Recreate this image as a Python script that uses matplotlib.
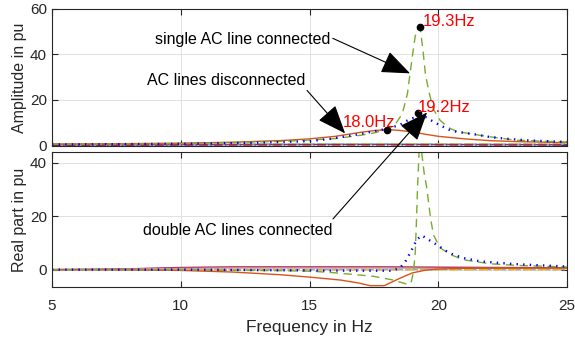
import matplotlib
matplotlib.use("Agg")
import matplotlib.pyplot as plt
from matplotlib.patches import ConnectionPatch
import numpy as np

plt.rcParams['font.family'] = ['Liberation Sans', 'DejaVu Sans']

# ---- amplitude (top panel) ----
f_dis_amp = [5, 8, 10, 12, 14, 15, 16, 17, 17.5, 18, 18.5, 19, 19.5, 20, 21, 22, 23, 25]
amp_dis = [0.6, 0.8, 1.0, 1.4, 2.2, 2.9, 4.0, 5.8, 6.5, 7.0, 6.6, 5.9, 4.9, 4.0, 2.9, 2.1, 1.7, 1.2]

f_single_amp = [5, 10, 14, 16, 17, 17.5, 18, 18.3, 18.6, 18.8, 18.9, 19.0, 19.1, 19.2, 19.25,
                19.3, 19.4, 19.5, 19.65, 19.8, 20.07, 20.4, 20.7, 21.3, 22, 23, 25]
amp_single = [0.5, 0.8, 1.8, 3.0, 4.5, 5.5, 7.0, 8.8, 14, 22.8, 31.7, 40, 48, 51.5, 52,
              51, 42, 31, 22.8, 16, 11, 7.8, 6.2, 5.0, 3.8, 2.3, 1.5]

f_double_amp = [5, 10, 13, 15, 15.8, 17, 18, 18.5, 18.8, 19.0, 19.3, 19.5, 19.8, 20.07,
                20.4, 20.7, 21.35, 22, 22.66, 23.5, 25]
amp_double = [0.4, 0.7, 1.2, 1.9, 2.9, 5.1, 7.3, 9.0, 11.0, 12.0, 12.6, 12.5, 10.5, 8.8,
              7.0, 6.0, 5.0, 3.7, 2.9, 2.2, 1.5]

# ---- real part (bottom panel) ----
f_dis_re = [5, 8, 10, 12, 13.85, 15, 16.2, 16.9, 17.35, 17.9, 18.4, 18.7, 19.0, 19.5, 20, 21, 25]
re_dis = [0, -0.1, -0.3, -0.9, -1.9, -2.8, -3.9, -5.0, -6.0, -6.0, -3.7, -2.4, -1.2, -0.2, 0.2, 0.5, 0.6]

f_single_re = [5, 10, 14, 15.1, 16, 17.48, 18.2, 18.84, 18.95, 19.03, 19.1, 19.14, 19.19, 19.25,
               19.3, 19.35, 19.45, 19.55, 19.7, 19.81, 20.07, 20.5, 20.97, 22, 23, 25]
re_single = [0, -0.1, -0.4, -0.6, -1.2, -2.5, -3.8, -5.6, -4.5, -1.0, 6, 15.6, 30.5, 44,
             48, 44, 36, 30.5, 19, 13, 8.1, 5.5, 3.7, 2.2, 1.6, 1.0]

f_double_re = [5, 10, 15, 17, 18.2, 18.51, 18.75, 18.97, 19.16, 19.36, 19.6, 19.94, 20.3,
               20.58, 21.0, 21.62, 22.91, 24.86, 25]
re_double = [0, 0, -0.3, -0.4, -0.4, 0.6, 3.5, 7.5, 11.2, 12.8, 11.3, 9.3, 7.0, 5.6, 4.3,
             3.1, 2.1, 1.2, 1.2]

# ---- other cases, staying near zero ----
f_base = [5, 8, 10, 12, 15, 18, 20, 22, 25]
amp_base1 = [0.3, 0.3, 0.35, 0.4, 0.45, 0.5, 0.45, 0.4, 0.35]
amp_base2 = [0.6, 0.6, 0.65, 0.7, 0.75, 0.8, 0.75, 0.7, 0.65]
amp_base3 = [0.45, 0.45, 0.5, 0.55, 0.6, 0.6, 0.55, 0.5, 0.5]
amp_base4 = [0.15, 0.15, 0.2, 0.2, 0.25, 0.25, 0.25, 0.2, 0.2]
re_base1 = [0, 0.3, 0.8, 1.0, 1.0, 1.0, 0.9, 0.8, 0.7]
re_base2 = [0, 0.2, 0.5, 0.6, 0.6, 0.6, 0.5, 0.5, 0.4]
re_base3 = [0, 0, 0, 0.05, 0.05, 0.05, 0.05, 0, 0]
re_base4 = [0, 0, -0.05, -0.05, -0.1, -0.1, -0.05, 0, 0]

# marked resonance points
mark_f = [18.0, 19.3, 19.2]
mark_amp = [6.6, 52.0, 14.1]
mark_txt = ['18.0Hz', '19.3Hz', '19.2Hz']

c_blue = '#0072BD'
c_orange = '#D95319'
c_yellow = '#EDB120'
c_purple = '#7E2F8E'
c_green = '#77AC30'
c_cyan = '#4DBEEE'
c_red = '#A2142F'
txt_col = '#262626'

fig = plt.figure(figsize=(5.75, 3.39), dpi=100)
ax1 = fig.add_axes([0.0904, 0.569, 0.896, 0.4045])
ax2 = fig.add_axes([0.0904, 0.1534, 0.896, 0.398])

# top panel
ax1.plot(f_base, amp_base1, color=c_purple, lw=1.0)
ax1.plot(f_base, amp_base2, color=c_yellow, lw=1.0, ls='-.')
ax1.plot(f_base, amp_base3, color=c_cyan, lw=1.0, ls='--')
ax1.plot(f_base, amp_base4, color=c_red, lw=1.0, ls='-.')
ax1.plot(f_dis_amp, amp_dis, color=c_orange, lw=1.0)
ax1.plot(f_single_amp, amp_single, color=c_green, lw=1.0, ls=(0, (6, 4)))
ax1.plot(f_double_amp, amp_double, color='blue', lw=1.7, ls=(0, (0.6, 2.2)))
ax1.plot(mark_f, mark_amp, 'o', color='black', ms=4.5)

# bottom panel
ax2.plot(f_base, re_base1, color=c_red, lw=1.0)
ax2.plot(f_base, re_base2, color='#D98FB0', lw=1.0)
ax2.plot(f_base, re_base3, color=c_cyan, lw=1.0, ls='--')
ax2.plot(f_base, re_base4, color=c_yellow, lw=1.0, ls='-.')
ax2.plot(f_dis_re, re_dis, color=c_orange, lw=1.0)
ax2.plot(f_single_re, re_single, color=c_green, lw=1.0, ls=(0, (6, 4)))
ax2.plot(f_double_re, re_double, color='blue', lw=1.7, ls=(0, (0.6, 2.2)))

for ax in (ax1, ax2):
    ax.set_xlim(5, 25)
    ax.set_xticks([5, 10, 15, 20, 25])
    ax.grid(True, color='#dcdcdc', lw=0.6)
    ax.set_axisbelow(True)
    ax.tick_params(direction='in', top=True, right=True, length=4, width=0.8,
                   colors=txt_col, labelsize=11)
    for s in ax.spines.values():
        s.set_color(txt_col)
        s.set_linewidth(0.8)

ax1.set_ylim(-0.3, 60)
ax1.set_yticks([0, 20, 40, 60])
ax1.tick_params(labelbottom=False)
ax1.set_ylabel('Amplitude in pu', fontsize=11.5, color=txt_col, labelpad=2)

ax2.set_ylim(-6.5, 44)
ax2.set_yticks([0, 20, 40])
ax2.set_ylabel('Real part in pu', fontsize=11.5, color=txt_col, labelpad=2)
ax2.set_xlabel('Frequency in Hz', fontsize=12.5, color=txt_col, labelpad=5)
ax2.tick_params(axis='x', pad=9)

# red frequency labels
ax1.text(16.3, 10.2, mark_txt[0], color='red', fontsize=12, va='center', ha='left')
ax1.text(19.41, 54.6, mark_txt[1], color='red', fontsize=12, va='center', ha='left')
ax1.text(19.21, 16.8, mark_txt[2], color='red', fontsize=12, va='center', ha='left')

arrow_kw = dict(arrowstyle='-|>,head_length=1.5,head_width=0.6', color='black',
                lw=0.8, mutation_scale=12, shrinkA=0, shrinkB=0)

ax1.text(12.42, 46.7, 'single AC line connected', fontsize=11.5, ha='center', va='center',
         color='black')
ax1.annotate('', xy=(18.9, 31.7), xytext=(15.9, 47.1), arrowprops=arrow_kw)

ax1.text(11.76, 28.6, 'AC lines disconnected', fontsize=11.5, ha='center', va='center',
         color='black')
ax1.annotate('', xy=(16.38, 5.3), xytext=(14.9, 24.2), arrowprops=arrow_kw)

ax2.text(12.2, 14.6, 'double AC lines connected', fontsize=11.5, ha='center', va='center',
         color='black')
# this arrow runs from the lower panel into the upper one
con = ConnectionPatch(xyA=(15.91, 19.0), coordsA=ax2.transData,
                      xyB=(19.56, 14.5), coordsB=ax1.transData, **arrow_kw)
fig.add_artist(con)

fig.savefig('out.png', dpi=100)
